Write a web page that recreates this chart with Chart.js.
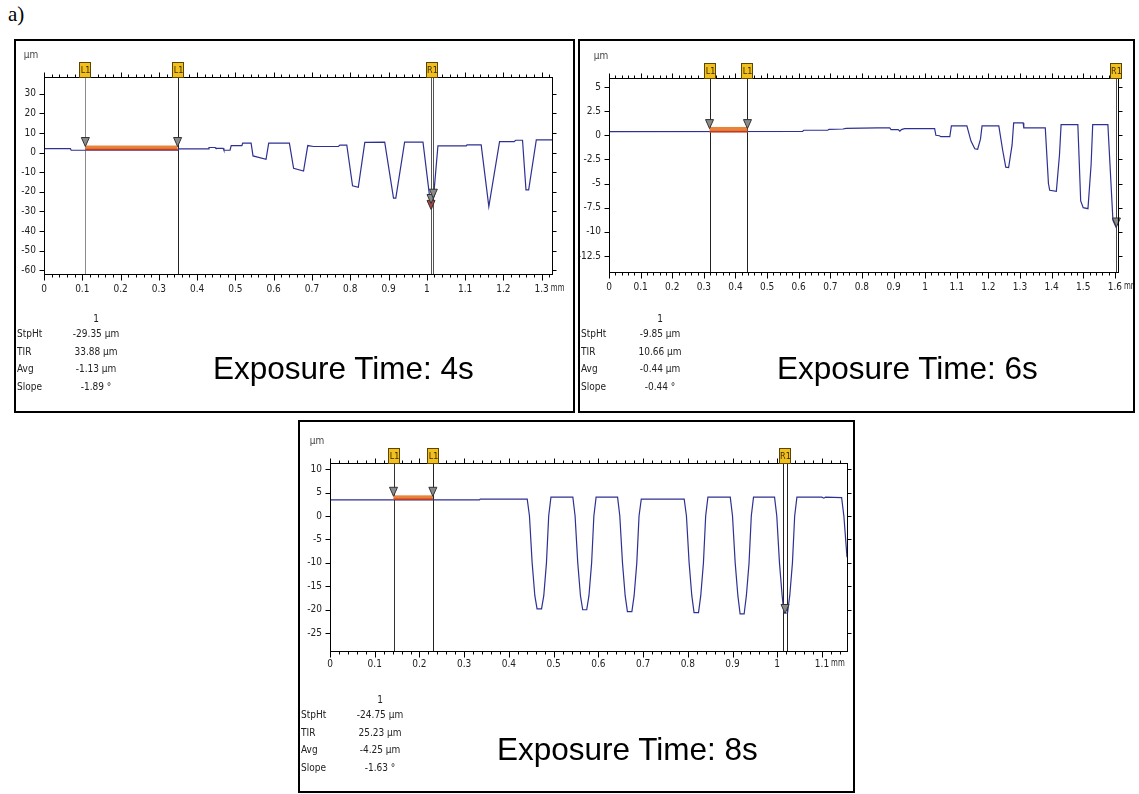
<!DOCTYPE html>
<html>
<head>
<meta charset="utf-8">
<script src="https://cdn.jsdelivr.net/npm/chart.js@4.4.1/dist/chart.umd.min.js"></script>
<style>
  body { margin: 0; width: 1139px; height: 794px; background: #fff; position: relative; overflow: hidden; }
  .panel { position: absolute; border: 2px solid #000; box-sizing: border-box; background: #fff; }
  .panel canvas { position: absolute; left: 0; top: 0; }
  .stat { position: absolute; font: 10px "Liberation Sans Narrow", "DejaVu Sans Condensed", sans-serif; color: #222; white-space: nowrap; }
  .stat.v { transform: translateX(-50%); }
  .expo { position: absolute; left: 197px; top: 309px; font: 31.5px "Liberation Sans", Arial, sans-serif; color: #000; white-space: nowrap; }
  .tag { position: absolute; left: 8px; top: 2px; font: 21px "Liberation Serif", "Times New Roman", serif; }
</style>
</head>
<body>
<div class="tag">a)</div>
<div class="panel" id="p1" style="left:14px;top:39px;width:561px;height:374px"><canvas id="c1" width="557" height="370"></canvas></div>
<div class="panel" id="p2" style="left:578px;top:39px;width:557px;height:374px"><canvas id="c2" width="553" height="370"></canvas></div>
<div class="panel" id="p3" style="left:298px;top:420px;width:557px;height:373px"><canvas id="c3" width="553" height="369"></canvas></div>
<script>
// Profilometer traces (mm along scan, µm height).

// ---- 4 s exposure ----
const p1X = [0, 0.069, 0.071, 0.35, 0.352, 0.429, 0.431, 0.447, 0.449, 0.468, 0.47, 0.486, 0.489, 0.517, 0.519, 0.541,
  0.546, 0.58, 0.587, 0.641, 0.652, 0.678, 0.689, 0.704, 0.769, 0.773, 0.791, 0.806, 0.821, 0.838, 0.89,
  0.913, 0.919, 0.942, 0.99, 1.007, 1.013, 1.017, 1.029, 1.103, 1.105, 1.142, 1.162, 1.19, 1.228, 1.232, 1.25,
  1.259, 1.266, 1.286, 1.327];
const p1Y = [2.0, 2.0, 1.2, 1.3, 1.9, 1.9, 2.6, 2.6, 2.2, 2.2, 1.2, 1.2, 3.6, 3.6, 4.8, 4.8,
  -1.7, -3.4, 4.8, 4.8, -8.0, -9.4, 3.6, 3.1, 3.1, 3.8, 3.8, -17.0, -17.7, 5.2, 5.3,
  -23.3, -23.3, 5.3, 5.3, -22.0, -28.0, -24.0, 3.4, 3.4, 3.9, 3.9, -27.6, 5.6, 5.6, 6.3, 6.3,
  -19.0, -19.0, 6.5, 6.5];
const p1XTicks = [0, 0.1, 0.2, 0.3, 0.4, 0.5, 0.6, 0.7, 0.8, 0.9, 1, 1.1, 1.2, 1.3];
const p1YTicks = [30, 20, 10, 0, -10, -20, -30, -40, -50, -60];
const p1L1 = [0.108, 0.349];
const p1R1 = [1.011, 1.017];
const p1Stats = ["-29.35 µm", "33.88 µm", "-1.13 µm", "-1.89 °"];

// ---- 6 s exposure ----
const p2X = [0, 0.612, 0.616, 0.692, 0.696, 0.74, 0.75, 0.85, 0.888, 0.892, 0.915, 0.92, 0.925, 0.935, 1.03,
  1.034, 1.045, 1.05, 1.078, 1.083, 1.132, 1.145, 1.157, 1.166, 1.175, 1.18, 1.233, 1.245, 1.255, 1.264, 1.275,
  1.28, 1.31, 1.312, 1.38, 1.39, 1.394, 1.415, 1.425, 1.43, 1.483, 1.492, 1.5, 1.515, 1.525, 1.53, 1.578,
  1.594, 1.605];
const p2Y = [0.38, 0.40, 0.52, 0.52, 0.62, 0.65, 0.72, 0.76, 0.76, 0.59, 0.59, 0.42, 0.59, 0.69, 0.69,
  0.0, -0.05, -0.15, -0.15, 0.97, 0.97, -0.6, -1.4, -1.45, -0.4, 0.97, 0.97, -1.5, -3.3, -3.35, -1.0,
  1.28, 1.28, 0.76, 0.76, -5.0, -5.7, -5.8, -2.0, 1.1, 1.1, -6.8, -7.5, -7.6, -3.0, 1.1, 1.1,
  -8.8, -9.6];
const p2XTicks = [0, 0.1, 0.2, 0.3, 0.4, 0.5, 0.6, 0.7, 0.8, 0.9, 1, 1.1, 1.2, 1.3, 1.4, 1.5, 1.6];
const p2YTicks = [5, 2.5, 0, -2.5, -5, -7.5, -10, -12.5];
const p2L1 = [0.318, 0.438];
const p2R1 = [1.605];
const p2Stats = ["-9.85 µm", "10.66 µm", "-0.44 µm", "-0.44 °"];

// ---- 8 s exposure ----
const p3X = [0, 0.334, 0.336, 0.441,
  0.446, 0.452, 0.458, 0.463, 0.473, 0.478, 0.484, 0.489, 0.494, 0.543,
  0.548, 0.554, 0.56, 0.565, 0.574, 0.579, 0.585, 0.59, 0.595, 0.643,
  0.648, 0.654, 0.66, 0.665, 0.675, 0.68, 0.686, 0.691, 0.696, 0.792,
  0.797, 0.803, 0.809, 0.814, 0.824, 0.829, 0.835, 0.84, 0.845, 0.895,
  0.9, 0.906, 0.912, 0.917, 0.926, 0.931, 0.937, 0.942, 0.947, 0.994,
  0.999, 1.005, 1.011, 1.015, 1.023, 1.028, 1.034, 1.039, 1.044, 1.1, 1.104, 1.108, 1.144, 1.149, 1.156];
const p3Y = [3.42, 3.42, 3.6, 3.6,
  0, -10, -17, -19.8, -19.8, -17, -10, 0, 4.0, 4.0,
  0, -10, -17, -20.0, -20.0, -17, -10, 0, 4.0, 4.0,
  0, -10, -17, -20.4, -20.4, -17, -10, 0, 3.6, 3.6,
  0, -10, -17, -20.6, -20.6, -17, -10, 0, 4.0, 4.0,
  0, -10, -17, -20.9, -20.9, -17, -10, 0, 4.0, 4.0,
  0, -10, -17, -20.7, -20.7, -17, -10, 0, 4.0, 4.0, 3.8, 4.0, 3.9, 0, -8.8];
const p3XTicks = [0, 0.1, 0.2, 0.3, 0.4, 0.5, 0.6, 0.7, 0.8, 0.9, 1, 1.1];
const p3YTicks = [10, 5, 0, -5, -10, -15, -20, -25];
const p3L1 = [0.142, 0.23];
const p3R1 = [1.014, 1.021];
const p3Stats = ["-24.75 µm", "25.23 µm", "-4.25 µm", "-1.63 °"];

const STAT_NAMES = ["StpHt", "TIR", "Avg", "Slope"];

Chart.defaults.font.family = "'Liberation Sans Narrow', 'DejaVu Sans Condensed', sans-serif";
Chart.defaults.font.size = 10;
Chart.defaults.color = "#222";
Chart.defaults.animation = false;

// Frame, ruler ticks, cursors, flags and the reference bar of the profiler software.
const decor = {
  id: "decor",
  beforeDatasetsDraw(chart, args, o) {
    const { ctx, chartArea: a, scales: { x } } = chart;
    ctx.save();
    ctx.lineWidth = 1;
    o.lines.forEach((c) => {
      const px = Math.round(x.getPixelForValue(c.x)) + 0.5;
      ctx.strokeStyle = c.color;
      ctx.beginPath();
      ctx.moveTo(px, a.top);
      ctx.lineTo(px, a.bottom);
      ctx.stroke();
    });
    ctx.restore();
  },
  afterDatasetsDraw(chart, args, o) {
    const { ctx, chartArea: a, scales: { x, y } } = chart;
    ctx.save();
    // reference bar between the two L1 cursors
    const bx0 = x.getPixelForValue(o.bar[0]), bx1 = x.getPixelForValue(o.bar[1]);
    const by0 = y.getPixelForValue(o.bar[2]), by1 = y.getPixelForValue(o.bar[3]);
    ctx.fillStyle = "#e8833a";
    ctx.fillRect(bx0, by0, bx1 - bx0, by1 - by0);
    ctx.fillStyle = "#c0392b";
    ctx.fillRect(bx0, by1 - 1.5, bx1 - bx0, 1.5);

    // cursor triangles
    o.tris.forEach((t) => {
      const px = x.getPixelForValue(t.x), py = y.getPixelForValue(t.y);
      ctx.beginPath();
      ctx.moveTo(px, py);
      ctx.lineTo(px - 4, py - 9);
      ctx.lineTo(px + 4, py - 9);
      ctx.closePath();
      ctx.fillStyle = t.red ? "#b0413e" : "#8a8a8a";
      ctx.fill();
      ctx.strokeStyle = "#333";
      ctx.stroke();
    });

    // frame
    ctx.strokeStyle = "#000";
    ctx.lineWidth = 1;
    const L = Math.round(a.left) + 0.5, R = Math.round(a.right) + 0.5;
    const T = Math.round(a.top) + 0.5, B = Math.round(a.bottom) + 0.5;
    ctx.strokeRect(L, T, R - L, B - T);

    // ruler ticks top/bottom every 0.02 mm, major every 0.1 mm
    ctx.beginPath();
    for (let k = 0; k * 0.02 <= x.max + 1e-9; k++) {
      const px = Math.round(x.getPixelForValue(k * 0.02)) + 0.5;
      const major = k % 5 === 0;
      ctx.moveTo(px, T);
      ctx.lineTo(px, T - (major ? 5 : 3));
      ctx.moveTo(px, B);
      ctx.lineTo(px, B + (major ? 6 : 3));
    }
    o.yTicks.forEach((v) => {
      const py = Math.round(y.getPixelForValue(v)) + 0.5;
      ctx.moveTo(L, py);
      ctx.lineTo(L - 5, py);
      ctx.moveTo(R, py);
      ctx.lineTo(R + 4, py);
    });
    ctx.stroke();

    // flags
    ctx.font = "9px 'Liberation Sans Narrow', 'DejaVu Sans Condensed', sans-serif";
    ctx.textAlign = "center";
    ctx.textBaseline = "middle";
    o.flags.forEach((f) => {
      const px = Math.round(x.getPixelForValue(f.x));
      ctx.fillStyle = "#f2c01e";
      ctx.fillRect(px - 5.5, T - 15, 11, 15);
      ctx.strokeStyle = "#5c4500";
      ctx.strokeRect(px - 5.5, T - 15, 11, 15);
      ctx.fillStyle = "#3a2a00";
      ctx.fillText(f.label, px + 0.5, T - 7);
    });

    // units
    ctx.fillStyle = "#444";
    ctx.font = "10px 'Liberation Sans Narrow', 'DejaVu Sans Condensed', sans-serif";
    ctx.fillText("µm", a.left + o.umDx, a.top - 22);
    const last = o.lastTick;
    const lx = x.getPixelForValue(last);
    const w = ctx.measureText(String(last)).width;
    ctx.textAlign = "left";
    ctx.fillStyle = "#222";
    ctx.translate(lx + w / 2 + 2, B + o.labelPad + 5);
    ctx.scale(0.78, 1);
    ctx.fillText("mm", 0, 0);
    ctx.restore();
  },
};

function makePanel(id, xs, ys, xTicks, yTicks, range, pad, deco) {
  return new Chart(document.getElementById(id), {
    type: "line",
    data: {
      datasets: [{
        data: xs.map((v, i) => ({ x: v, y: ys[i] })),
        borderColor: "#2e3192",
        borderWidth: 1.2,
        pointRadius: 0,
        tension: 0,
      }],
    },
    plugins: [decor],
    options: {
      responsive: false,
      events: [],
      layout: { padding: { left: 0, top: pad.top, right: pad.right, bottom: pad.bottom } },
      scales: {
        x: {
          type: "linear",
          min: 0,
          max: range.xMax,
          afterBuildTicks: (s) => { s.ticks = xTicks.map((v) => ({ value: v })); },
          afterFit: (s) => { s.height = 30; },
          grid: { display: false, drawTicks: false },
          border: { display: false },
          ticks: { autoSkip: false, maxRotation: 0, padding: deco.labelPad, callback: (v) => String(v) },
        },
        y: {
          min: range.yMin,
          max: range.yMax,
          afterBuildTicks: (s) => { s.ticks = yTicks.map((v) => ({ value: v })); },
          afterFit: (s) => { s.width = pad.left; },
          grid: { display: false, drawTicks: false },
          border: { display: false },
          ticks: { padding: 8, callback: (v) => String(v) },
        },
      },
      plugins: {
        legend: { display: false },
        tooltip: { enabled: false },
        decor: Object.assign({ yTicks, lastTick: xTicks[xTicks.length - 1] }, deco),
      },
    },
  });
}

function addStats(panelId, values) {
  const p = document.getElementById(panelId);
  const rows = [278, 293, 311, 328, 346];
  const one = document.createElement("div");
  one.className = "stat v";
  one.style.left = "80px";
  one.style.top = rows[0] - 6 + "px";
  one.textContent = "1";
  p.appendChild(one);
  STAT_NAMES.forEach((n, i) => {
    const a = document.createElement("div");
    a.className = "stat";
    a.style.left = "1px";
    a.style.top = rows[i + 1] - 6 + "px";
    a.textContent = n;
    p.appendChild(a);
    const b = document.createElement("div");
    b.className = "stat v";
    b.style.left = "80px";
    b.style.top = rows[i + 1] - 6 + "px";
    b.textContent = values[i];
    p.appendChild(b);
  });
}

function addExpo(panelId, text) {
  const d = document.createElement("div");
  d.className = "expo";
  d.textContent = text;
  document.getElementById(panelId).appendChild(d);
}

makePanel("c1", p1X, p1Y, p1XTicks, p1YTicks,
  { xMax: 1.327, yMin: -62, yMax: 38.6 },
  { left: 28, top: 36, right: 21, bottom: 107 },
  {
    umDx: -13,
    labelPad: 9,
    lines: [{ x: p1L1[0], color: "#8a8a8a" }, { x: p1L1[1], color: "#222" }, { x: p1R1[0], color: "#555" }, { x: p1R1[1], color: "#555" }],
    bar: [p1L1[0], p1L1[1], 3.6, 1.2],
    tris: [{ x: p1L1[0], y: 3.1 }, { x: p1L1[1], y: 3.1 }, { x: p1R1[0], y: -29, red: true }, { x: p1R1[0], y: -26 }, { x: p1R1[1], y: -23.3 }],
    flags: [{ x: p1L1[0], label: "L1" }, { x: p1L1[1], label: "L1" }, { x: (p1R1[0] + p1R1[1]) / 2, label: "R1" }],
  });

makePanel("c2", p2X, p2Y, p2XTicks, p2YTicks,
  { xMax: 1.61, yMin: -14.16, yMax: 5.93 },
  { left: 29, top: 37, right: 15, bottom: 109 },
  {
    umDx: -8,
    labelPad: 9,
    lines: [{ x: p2L1[0], color: "#222" }, { x: p2L1[1], color: "#222" }, { x: p2R1[0], color: "#444" }],
    bar: [p2L1[0], p2L1[1], 0.86, 0.3],
    tris: [{ x: p2L1[0], y: 0.69 }, { x: p2L1[1], y: 0.69 }, { x: p2R1[0], y: -9.5 }],
    flags: [{ x: p2L1[0], label: "L1" }, { x: p2L1[1], label: "L1" }, { x: p2R1[0], label: "R1" }],
  });

makePanel("c3", p3X, p3Y, p3XTicks, p3YTicks,
  { xMax: 1.156, yMin: -28.8, yMax: 11.3 },
  { left: 30, top: 41, right: 6, bottom: 110 },
  {
    umDx: -13,
    labelPad: 7,
    lines: [{ x: p3L1[0], color: "#333" }, { x: p3L1[1], color: "#222" }, { x: p3R1[0], color: "#222" }, { x: p3R1[1], color: "#222" }],
    bar: [p3L1[0], p3L1[1], 4.4, 3.4],
    tris: [{ x: p3L1[0], y: 4.2 }, { x: p3L1[1], y: 4.2 }, { x: (p3R1[0] + p3R1[1]) / 2, y: -20.8 }],
    flags: [{ x: p3L1[0], label: "L1" }, { x: p3L1[1], label: "L1" }, { x: (p3R1[0] + p3R1[1]) / 2, label: "R1" }],
  });

addStats("p1", p1Stats);
addStats("p2", p2Stats);
addStats("p3", p3Stats);
addExpo("p1", "Exposure Time: 4s");
addExpo("p2", "Exposure Time: 6s");
addExpo("p3", "Exposure Time: 8s");
</script>
</body>
</html>
